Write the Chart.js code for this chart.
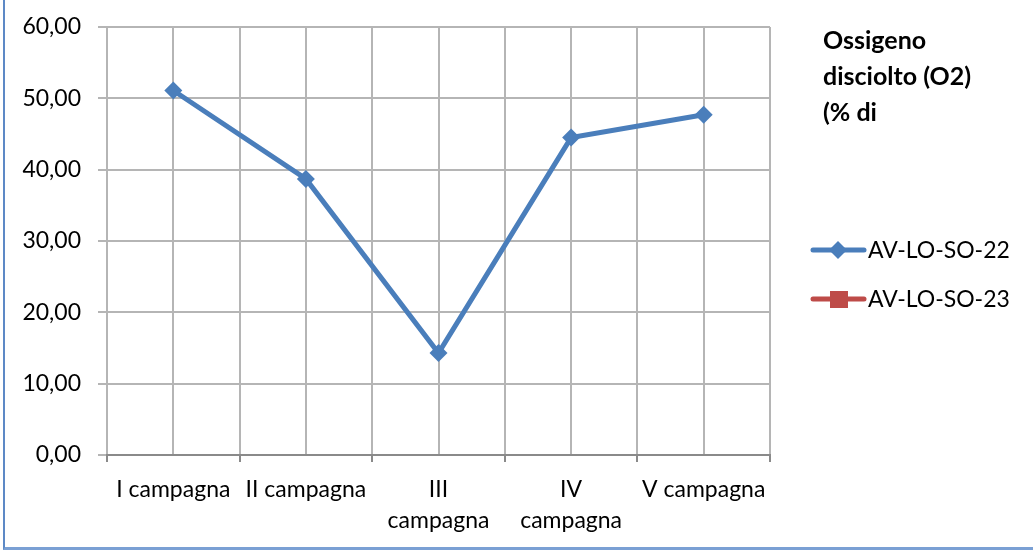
<!DOCTYPE html>
<html>
<head>
<meta charset="utf-8">
<script src="https://cdn.jsdelivr.net/npm/chart.js@4/dist/chart.umd.min.js"></script>
<style>
  html, body { margin: 0; padding: 0; background: #fff; }
  #wrap { position: relative; width: 1033px; height: 556px; overflow: hidden; }
  #frame { position: absolute; left: 3px; top: -4px; width: 1040px; height: 554px;
           border-left: 2px solid #5d89c6; border-bottom: 3px solid #7aa0d4; box-sizing: border-box; }
  canvas { position: absolute; left: 0; top: 0; }
</style>
</head>
<body>
<div id="wrap">
  <canvas id="chart" width="1033" height="556"></canvas>
  <div id="frame"></div>
</div>
<script>
// dati
const categorie = [['I campagna'], ['II campagna'], ['III', 'campagna'], ['IV', 'campagna'], ['V campagna']];
const serie22 = [51.1, 38.7, 14.3, 44.5, 47.7];
const serie23 = [null, null, null, null, null];
const nomiSerie = ['AV-LO-SO-22', 'AV-LO-SO-23'];
const titoloRighe = ['Ossigeno', 'disciolto (O2)', '(% di'];
const yMin = 0, yMax = 60, yStep = 10;

const FONT = "Lato, 'Open Sans', sans-serif";
const BLU = '#4a7ebb';
const ROSSO = '#be4b48';

// titolo + legenda disegnati a destra (stile Excel)
const legendaExcel = {
    id: 'legendaExcel',
    afterDraw(chart) {
        const ctx = chart.ctx;
        ctx.save();
        ctx.fillStyle = '#000';
        ctx.font = "bold 25px " + FONT;
        ctx.textAlign = 'left';
        ctx.textBaseline = 'middle';
        titoloRighe.forEach((r, i) => ctx.fillText(r, 823, 41 + i * 36));

        chart.data.datasets.forEach((ds, i) => {
            const y = 250 + i * 49;
            ctx.strokeStyle = ds.borderColor;
            ctx.lineWidth = 5;
            ctx.lineCap = 'round';
            ctx.beginPath();
            ctx.moveTo(813, y);
            ctx.lineTo(864, y);
            ctx.stroke();
            ctx.fillStyle = ds.backgroundColor;
            if (ds.pointStyle === 'rectRot') {
                ctx.beginPath();
                ctx.moveTo(838, y - 9);
                ctx.lineTo(847, y);
                ctx.lineTo(838, y + 9);
                ctx.lineTo(829, y);
                ctx.closePath();
                ctx.fill();
            } else {
                ctx.fillRect(830, y - 8, 18, 17);
            }
            ctx.fillStyle = '#000';
            ctx.font = "23px " + FONT;
            ctx.fillText(nomiSerie[i], 868, y + 1);
        });
        ctx.restore();
    }
};

new Chart(document.getElementById('chart'), {
    type: 'line',
    data: {
        labels: categorie,
        datasets: [
            {
                label: nomiSerie[0],
                data: serie22,
                borderColor: BLU,
                backgroundColor: BLU,
                borderWidth: 5,
                pointStyle: 'rectRot',
                pointRadius: 9,
                pointBorderWidth: 0,
                tension: 0,
                xAxisID: 'x'
            },
            {
                label: nomiSerie[1],
                data: serie23,
                borderColor: ROSSO,
                backgroundColor: ROSSO,
                borderWidth: 5,
                pointStyle: 'rect',
                pointRadius: 8,
                xAxisID: 'x'
            }
        ]
    },
    options: {
        responsive: false,
        animation: false,
        devicePixelRatio: 1,
        layout: { padding: { top: 27, right: 263, bottom: 0, left: 0 } },
        plugins: {
            legend: { display: false },
            tooltip: { enabled: false }
        },
        scales: {
            y: {
                min: yMin,
                max: yMax,
                ticks: {
                    stepSize: yStep,
                    padding: 17,
                    color: '#000',
                    font: { family: FONT, size: 23 },
                    callback: v => v.toFixed(2).replace('.', ',')
                },
                grid: { color: '#b5b5b5', lineWidth: 2, tickLength: 9 },
                border: { color: '#b5b5b5', width: 2 },
                afterFit: s => { s.width = 107; s.paddingTop = 0; s.paddingBottom = 0; }
            },
            x: {
                offset: true,
                ticks: {
                    color: '#000',
                    padding: 12,
                    maxRotation: 0,
                    autoSkip: false,
                    font: { family: FONT, size: 23, lineHeight: 1.35 }
                },
                grid: { offset: true, color: '#b5b5b5', lineWidth: 2, tickLength: 7, tickColor: '#8a8a8a' },
                border: { color: '#8a8a8a', width: 2 },
                afterFit: s => { s.height = 101; }
            },
            x2: {
                type: 'category',
                position: 'bottom',
                offset: true,
                labels: categorie,
                ticks: { display: false },
                grid: { offset: false, color: '#b5b5b5', lineWidth: 2, drawTicks: false },
                border: { display: false },
                afterFit: s => { s.height = 0; }
            }
        }
    },
    plugins: [legendaExcel]
});
</script>
</body>
</html>
